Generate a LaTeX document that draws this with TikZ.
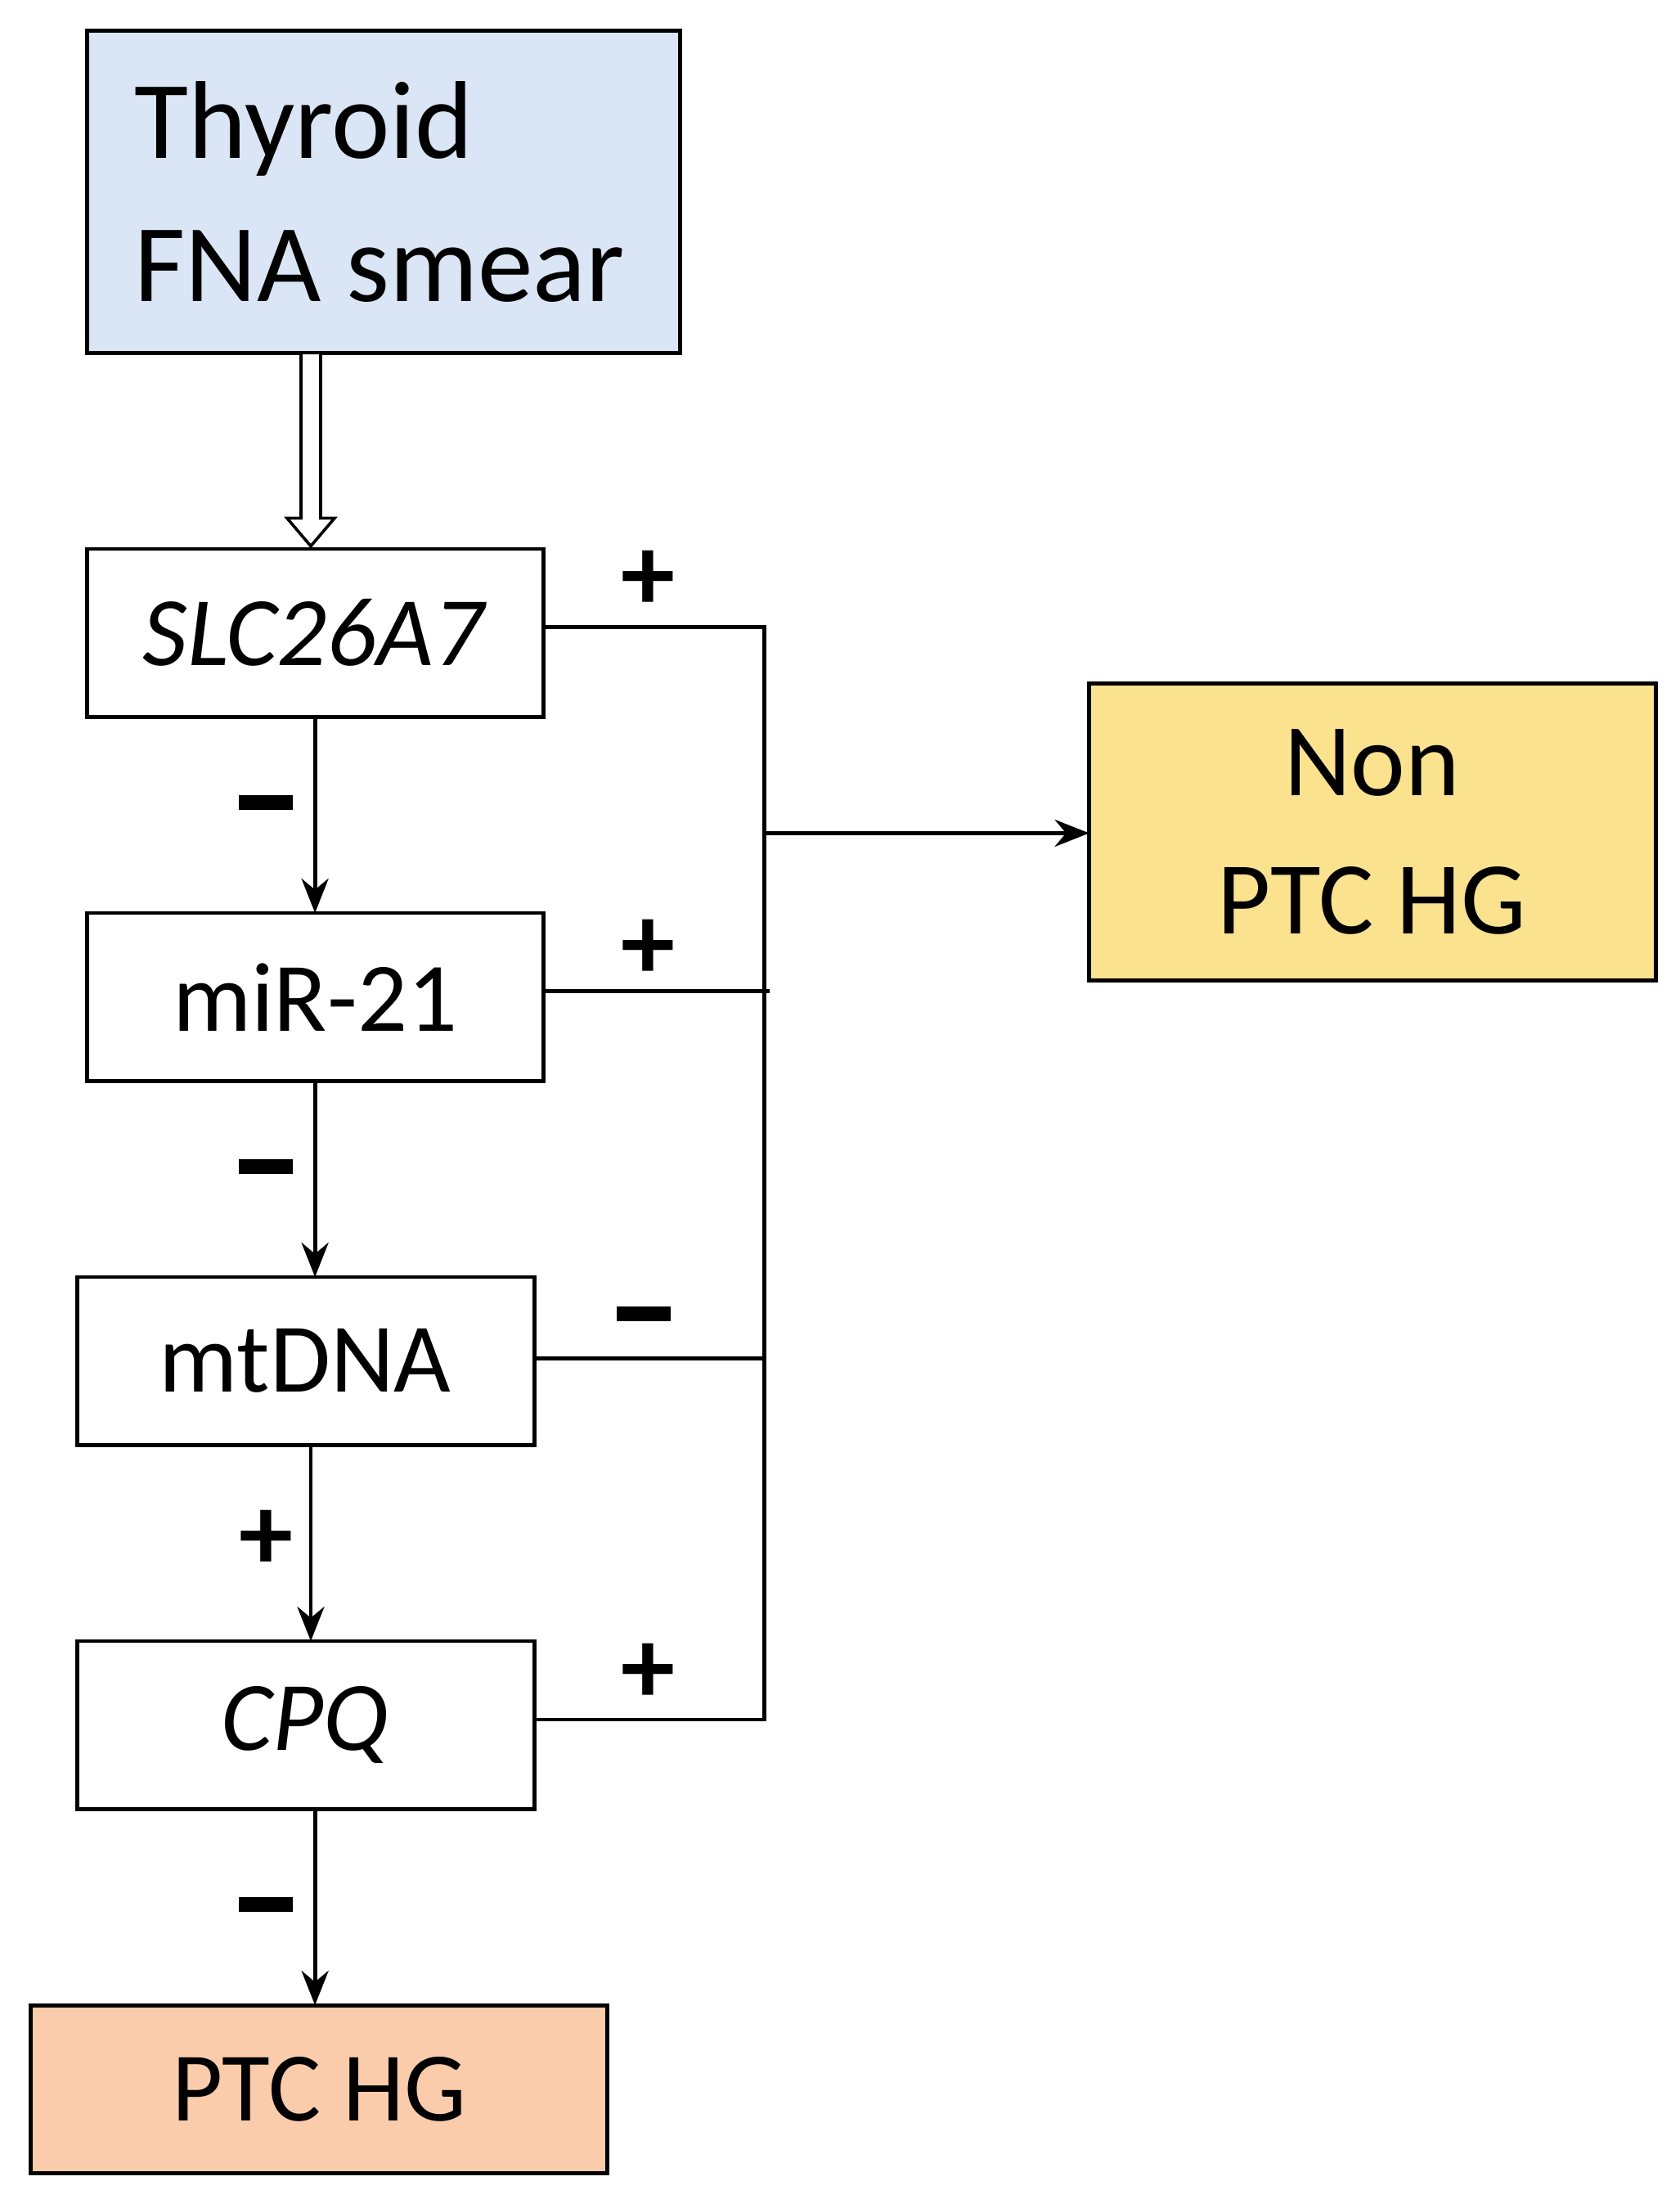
\documentclass[tikz,border=0pt]{standalone}
\usepackage{fontspec}
\setmainfont{Carlito}
\usetikzlibrary{arrows.meta}
\definecolor{blueF}{RGB}{218,230,245}
\definecolor{orangeF}{RGB}{250,204,172}
\definecolor{yellowF}{RGB}{250,226,142}
\begin{document}
\begin{tikzpicture}[x=0.02cm,y=-0.02cm,
 box/.style={draw,line width=1.6pt,inner sep=0pt},
 lbl/.style={font=\fontsize{40}{48}\selectfont},
 sg/.style={font=\bfseries\fontsize{44}{48}\selectfont,inner sep=0pt},
 ln/.style={line width=1.6pt},
 ar/.style={ln,-{Stealth[length=14pt,width=11pt]}}]
\useasboundingbox (0,0) rectangle (1200,1564);
\draw[box,fill=blueF] (62,22) rectangle (486,252);
\node[lbl,anchor=west,align=left,font=\fontsize{45}{58}\selectfont] (thy) at (90,137) {Thyroid\\FNA smear};
\draw[box] (62,392) rectangle (388,512); \node[lbl] (slc) at (225,452) {\textit{SLC26A7}};
\draw[box] (62,652) rectangle (388,772); \node[lbl] (mir) at (225,712) {miR-21};
\draw[box] (55,912) rectangle (382,1032); \node[lbl] (mt) at (218,972) {mtDNA};
\draw[box] (55,1172) rectangle (382,1292); \node[lbl] (cpq) at (218,1232) {\textit{CPQ}};
\draw[box,fill=orangeF] (22,1432) rectangle (434,1552); \node[lbl] (ptc) at (228,1492) {PTC HG};
\draw[box,fill=yellowF] (778,488) rectangle (1183,700);
\node[lbl,align=center,font=\fontsize{42}{56}\selectfont] (non) at (980,594) {Non\\PTC HG};
% hollow arrow
\draw[line width=1.2pt,fill=white] (215,252)--(229,252)--(229,370)--(239,370)--(222,390)--(205,370)--(215,370)--cycle;
% vertical arrows
\draw[ar] (225,512)--(225,652);
\draw[ar] (225,772)--(225,912);
\draw[ar] (222,1032)--(222,1172);
\draw[ar] (225,1292)--(225,1432);
% right bus
\coordinate (b1) at (546,448); \coordinate (b4) at (546,1228);
\draw[ln] (388,448)--(b1)--(b4)--(382,1228);
\draw[ln] (388,708)--(550,708);
\draw[ln] (382,970)--(546,970);
\draw[ar] (546,595)--(778,595);
% signs
\node[sg] at (463,415) {+};
\node[sg] at (463,678) {+};
\node[sg] at (460,938) {\rule{22pt}{6pt}};
\node[sg] at (463,1195) {+};
\node[sg] at (190,573) {\rule{22pt}{6pt}};
\node[sg] at (190,833) {\rule{22pt}{6pt}};
\node[sg] at (190,1100) {+};
\node[sg] at (190,1360) {\rule{22pt}{6pt}};
\end{tikzpicture}
\end{document}
